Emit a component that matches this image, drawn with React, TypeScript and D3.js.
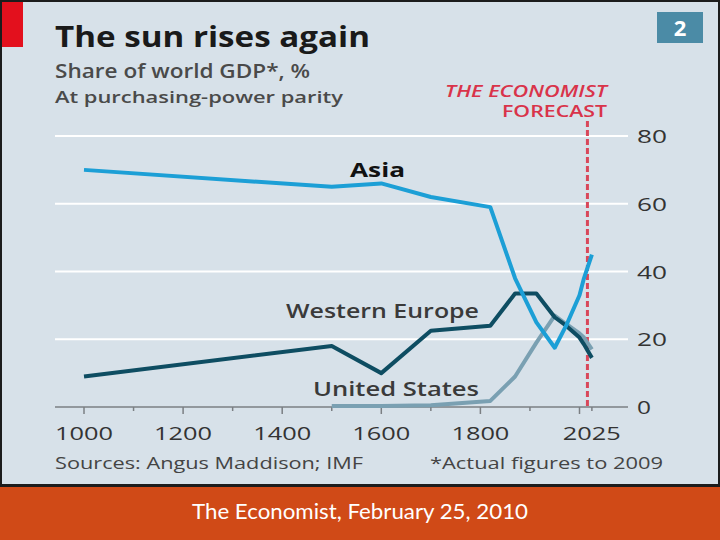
import { FC, useCallback, useEffect, useRef } from "react"
import * as d3 from 'd3';

// share of world GDP, %
const asiaYears = [1000, 1500, 1600, 1700, 1820, 1870, 1913, 1950, 1973, 2000, 2009, 2025]
const asiaShare = [70, 65, 66, 62, 59, 38, 25, 17.5, 24, 33, 38, 45]

const europeYears = [1000, 1500, 1600, 1700, 1820, 1870, 1913, 1950, 1973, 2000, 2009, 2025]
const europeShare = [9, 18, 10, 22.5, 24, 33.5, 33.5, 26.5, 24, 20.5, 18.5, 14.5]

const usYears = [1500, 1600, 1700, 1820, 1870, 1913, 1950, 1973, 2000, 2009, 2025]
const usShare = [0.3, 0.3, 0.5, 1.8, 9, 19, 27, 24.5, 21.7, 20.5, 17]

const xTickYears = [1000, 1100, 1200, 1300, 1400, 1500, 1600, 1700, 1800, 1900, 2000, 2025]
const xLabelYears = [1000, 1200, 1400, 1600, 1800, 2025]
const yTicks = [0, 20, 40, 60, 80]
const forecastYear = 2016

const FONT = "'Open Sans', 'DejaVu Sans', sans-serif"

type Sel = d3.Selection<SVGSVGElement | null, unknown, null, undefined>

// text helper: the original font is wider than anything installed, so stretch to the measured width
const addText = (svg: Sel, x: number, y: number, txt: string, size: number, opts: {
    anchor?: string, weight?: number, color?: string, len?: number, italic?: boolean, family?: string
} = {}) => {
    const t = svg.append('text')
        .attr('x', x).attr('y', y)
        .attr('text-anchor', opts.anchor || 'start')
        .attr('font-family', opts.family || FONT)
        .attr('font-weight', opts.weight || 400)
        .attr('font-size', size)
        .attr('fill', opts.color || '#333')
        .text(txt)
    if (opts.italic) t.attr('font-style', 'italic')
    if (opts.len) t.attr('textLength', opts.len).attr('lengthAdjust', 'spacingAndGlyphs')
    return t
}

const Chart: FC = () => {
    const svgRef = useRef<SVGSVGElement>(null);

    const draw = useCallback(() => {
        const width = 720
        const height = 540
        const svg = d3.select(svgRef.current)
            .attr("width", width)
            .attr("height", height) as Sel
        svg.selectAll("*").remove()

        // frame
        svg.append('rect').attr('x', 0).attr('y', 0).attr('width', width).attr('height', 487).attr('fill', '#1c1c1c')
        svg.append('rect').attr('x', 2).attr('y', 2).attr('width', 716).attr('height', 482).attr('fill', '#d7e1e9')
        svg.append('rect').attr('x', 2).attr('y', 2).attr('width', 21).attr('height', 45).attr('fill', '#e3101d')
        svg.append('rect').attr('x', 0).attr('y', 487).attr('width', width).attr('height', 53).attr('fill', '#d04a17')
        addText(svg, 360, 519, 'The Economist, February 25, 2010', 21,
            { anchor: 'middle', color: '#fff', len: 336, family: "Lato, 'Open Sans', sans-serif" })

        // titles
        addText(svg, 55, 47, 'The sun rises again', 28, { weight: 700, color: '#1a1a1a', len: 315 })
        addText(svg, 55, 78, 'Share of world GDP*, %', 19, { weight: 600, color: '#4a4a4a', len: 255 })
        addText(svg, 55, 103, 'At purchasing-power parity', 16.5, { weight: 600, color: '#4a4a4a', len: 288 })
        svg.append('rect').attr('x', 657).attr('y', 12).attr('width', 46).attr('height', 31).attr('fill', '#4b8ba6')
        addText(svg, 680, 36, '2', 22, { anchor: 'middle', weight: 700, color: '#fff' })

        // scales
        const xScale = d3.scaleLinear().domain([1000, 2000]).range([84, 579.5])
        const yScale = d3.scaleLinear().domain([0, 80]).range([407, 136])
        const left = 55
        const right = 628

        // grid
        svg.append('g').selectAll('line')
            .data(yTicks.filter(d => d > 0))
            .join('line')
            .attr('x1', left).attr('x2', right)
            .attr('y1', d => yScale(d)).attr('y2', d => yScale(d))
            .attr('stroke', '#fff').attr('stroke-width', 2)
        svg.append('g').selectAll('text')
            .data(yTicks)
            .join('text')
            .attr('x', 637).attr('y', d => yScale(d) + 7)
            .attr('font-family', FONT).attr('font-size', 19).attr('fill', '#333')
            .attr('textLength', d => (d === 0 ? 14 : 30)).attr('lengthAdjust', 'spacingAndGlyphs')
            .text(d => `${d}`)

        // x axis
        svg.append('line').attr('x1', left).attr('x2', right).attr('y1', 407).attr('y2', 407)
            .attr('stroke', '#7b7f83').attr('stroke-width', 1.5)
        svg.append('g').selectAll('line')
            .data(xTickYears)
            .join('line')
            .attr('x1', d => xScale(d)).attr('x2', d => xScale(d))
            .attr('y1', 407).attr('y2', d => (d % 200 === 0 ? 414 : 411))
            .attr('stroke', '#7b7f83').attr('stroke-width', 1.5)
        svg.append('g').selectAll('text')
            .data(xLabelYears)
            .join('text')
            .attr('x', d => xScale(d)).attr('y', 440).attr('text-anchor', 'middle')
            .attr('font-family', FONT).attr('font-size', 19).attr('fill', '#333')
            .attr('textLength', 58).attr('lengthAdjust', 'spacingAndGlyphs')
            .text(d => `${d}`)

        // forecast marker
        svg.append('line').attr('x1', xScale(forecastYear)).attr('x2', xScale(forecastYear))
            .attr('y1', 121).attr('y2', 407)
            .attr('stroke', '#d9475a').attr('stroke-width', 3).attr('stroke-dasharray', '6,3')
        addText(svg, 607, 97, 'THE ECONOMIST', 16, { anchor: 'end', weight: 600, italic: true, color: '#d9334a', len: 162 })
        addText(svg, 607, 117, 'FORECAST', 16, { anchor: 'end', weight: 600, color: '#d9334a', len: 105 })

        // series
        const line = d3.line<[number, number]>()
            .x(d => xScale(d[0]))
            .y(d => yScale(d[1]))
        const series = [
            { years: usYears, values: usShare, color: '#7aa0b2' },
            { years: europeYears, values: europeShare, color: '#0e4d62' },
            { years: asiaYears, values: asiaShare, color: '#1c9fd6' },
        ]
        svg.append('g').selectAll('path')
            .data(series)
            .join('path')
            .attr('d', s => line(s.years.map((y, i) => [y, s.values[i]] as [number, number])))
            .attr('fill', 'none')
            .attr('stroke', s => s.color)
            .attr('stroke-width', 4)
            .attr('stroke-linejoin', 'round')

        // series labels
        addText(svg, 350, 177, 'Asia', 20, { weight: 700, color: '#111', len: 55 })
        addText(svg, 286, 318, 'Western Europe', 20, { weight: 600, color: '#3a3a3a', len: 193 })
        addText(svg, 313, 396, 'United States', 20, { weight: 600, color: '#3a3a3a', len: 166 })

        // footnotes
        addText(svg, 55, 469, 'Sources: Angus Maddison; IMF', 16, { color: '#444', len: 308 })
        addText(svg, 663, 469, '*Actual figures to 2009', 16, { anchor: 'end', color: '#444', len: 233 })
    }, [])

    useEffect(() => {
        document.body.style.margin = '0'
        draw()
    }, [draw])

    return (
        <svg ref={svgRef} style={{ display: 'block' }}></svg>
    )
}

export default function App() {
    return <Chart />
}
